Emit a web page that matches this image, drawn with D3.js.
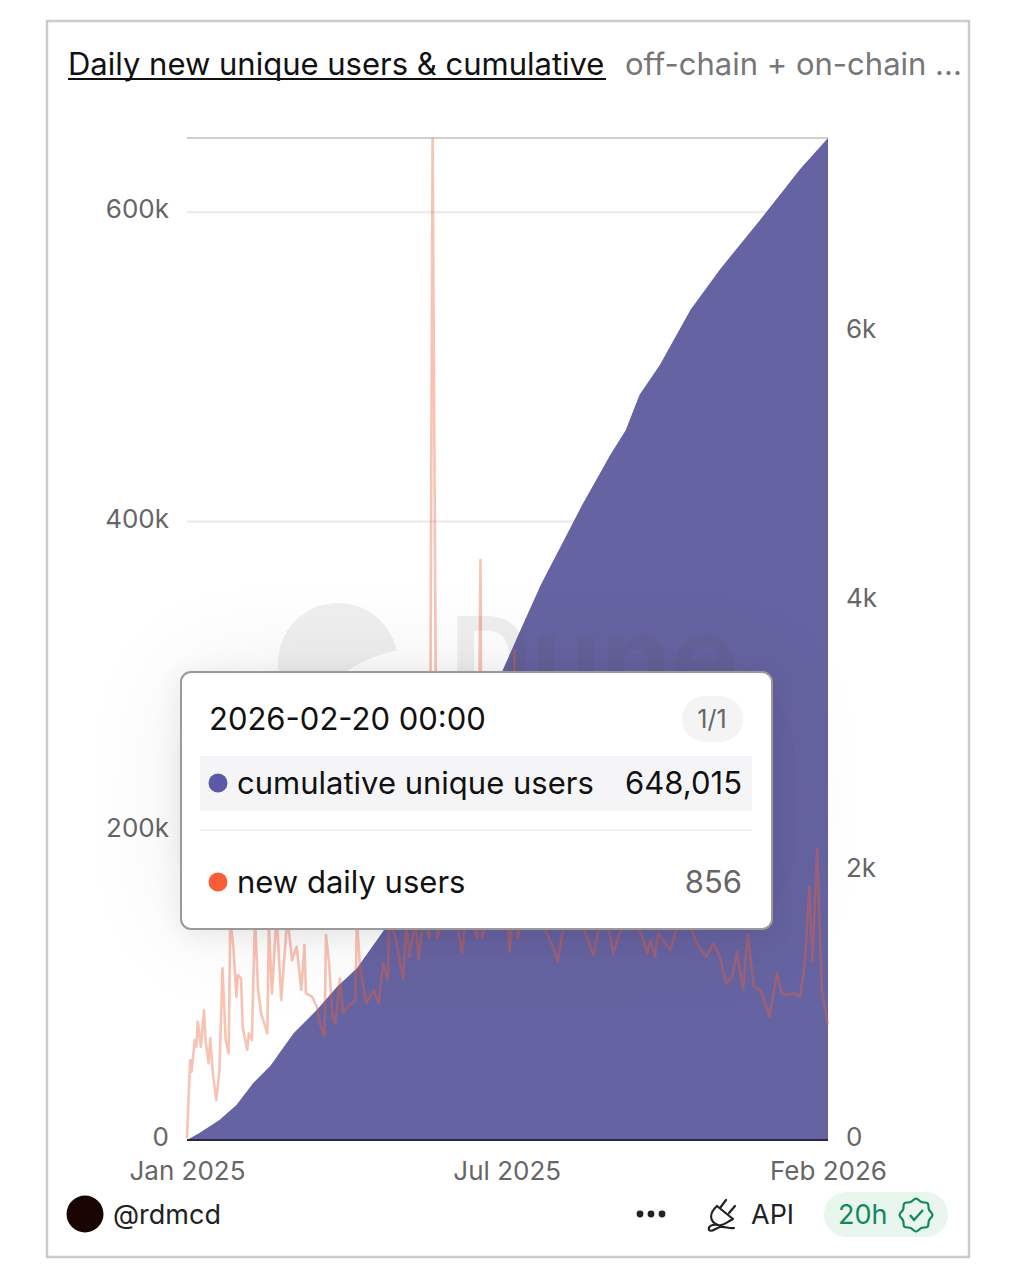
<!DOCTYPE html>
<html>
<head>
<meta charset="utf-8">
<script src="https://cdn.jsdelivr.net/npm/d3@7"></script>
<style>
  html, body { margin: 0; padding: 0; background: #fff; }
  svg { display: block; }
  text { font-family: Inter, "Noto Sans", sans-serif; }
</style>
</head>
<body>
<div id="chart"></div>
<script>
// values, days are counted from the first date
const startDate = new Date(Date.UTC(2025, 0, 1));
const endDate = new Date(Date.UTC(2026, 1, 20));

const cumulativeDays = [0, 8, 21, 32, 43, 54, 69, 84, 97, 110, 127, 151, 177, 204, 216, 229, 241, 256, 274, 284, 293, 306, 326, 345, 371, 397, 415];
const cumulativeUsers = [0, 4500, 13000, 22600, 37000, 48000, 69000, 84000, 99000, 111000, 135000, 187000, 244000, 303000, 330000, 359000, 382000, 411000, 443000, 459000, 482000, 501000, 537000, 563000, 595000, 628000, 648015];

const dailyDays = [0, 2, 3, 5, 6, 7, 9, 11, 12, 14, 15, 17, 19, 21, 23, 25, 27, 28, 30, 32, 33, 35, 36, 39, 40, 42, 44, 46, 48, 52, 53, 55, 58, 61, 65, 68, 71, 74, 76, 77, 81, 84, 86, 89, 90, 92, 94, 96, 99, 101, 104, 109, 110, 112, 116, 121, 124, 127, 130, 131, 135, 140, 142, 144, 148, 150, 153, 157, 159, 162, 165, 170, 174, 178, 181, 185, 188, 190, 191, 196, 202, 208, 209, 210, 212, 214, 220, 226, 233, 237, 240, 243, 248, 252, 258, 263, 266, 271, 276, 280, 287, 294, 298, 300, 303, 305, 313, 316, 322, 330, 336, 341, 345, 349, 353, 356, 360, 363, 367, 371, 373, 377, 382, 385, 388, 393, 397, 400, 403, 405, 408, 411, 415];
const dailyUsers = [12, 594, 507, 742, 692, 878, 692, 964, 742, 569, 754, 470, 297, 519, 1274, 742, 643, 1632, 1434, 1063, 1224, 1199, 841, 668, 791, 742, 1657, 1113, 940, 791, 1607, 1088, 1682, 1039, 1657, 1335, 1434, 1113, 1447, 1088, 1063, 989, 866, 767, 1521, 1311, 940, 866, 1199, 940, 989, 1039, 1632, 1286, 1014, 1113, 1014, 1311, 1187, 1632, 1500, 1187, 1632, 1360, 1632, 1335, 1650, 1500, 7436, 1500, 1600, 1800, 1650, 1388, 1700, 1600, 1500, 4303, 1500, 1700, 1600, 1558, 1397, 1558, 3636, 1500, 1800, 1650, 1533, 1434, 1323, 1533, 1700, 1750, 1533, 1372, 1533, 1700, 1385, 1533, 1650, 1533, 1385, 1484, 1360, 1533, 1410, 1533, 1700, 1459, 1360, 1459, 1360, 1162, 1212, 1397, 1113, 1521, 1138, 1113, 1063, 915, 1236, 1088, 1076, 1088, 1063, 1311, 1880, 1323, 2164, 1113, 856];

const leftTicks = [0, 200000, 400000, 600000];
const rightTicks = [0, 2000, 4000, 6000];
const xTickDates = [startDate, new Date(Date.UTC(2025, 6, 27)), endDate];

const toDate = d => d3.utcDay.offset(startDate, d);

const cumulative = cumulativeDays.map((d, i) => ({ date: toDate(d), value: cumulativeUsers[i] }));
const daily = dailyDays.map((d, i) => ({ date: toDate(d), value: dailyUsers[i] }));

const width = 1016, height = 1280;
const plot = { left: 187, right: 828, top: 138, bottom: 1140 };

const x = d3.scaleUtc().domain([startDate, endDate]).range([plot.left, plot.right]);
const yLeft = d3.scaleLinear().domain([0, 648015]).range([plot.bottom, plot.top]);
const yRight = d3.scaleLinear().domain([0, 7436]).range([plot.bottom, plot.top]);

const svg = d3.select('#chart').append('svg')
  .attr('width', width)
  .attr('height', height);

const defs = svg.append('defs');
defs.append('clipPath').attr('id', 'plot-clip').append('rect')
  .attr('x', plot.left - 2).attr('y', plot.top)
  .attr('width', plot.right - plot.left + 4).attr('height', plot.bottom - plot.top);
defs.append('filter').attr('id', 'blur-wide')
  .attr('x', '-60%').attr('y', '-100%').attr('width', '220%').attr('height', '300%')
  .append('feGaussianBlur').attr('stdDeviation', 55);
defs.append('filter').attr('id', 'blur-near')
  .attr('x', '-20%').attr('y', '-30%').attr('width', '140%').attr('height', '160%')
  .append('feGaussianBlur').attr('stdDeviation', 14);

// card
svg.append('rect')
  .attr('x', 47).attr('y', 21).attr('width', 922).attr('height', 1236)
  .attr('fill', '#fff').attr('stroke', '#cbcbcb').attr('stroke-width', 2.5);

// title
svg.append('text').attr('x', 68).attr('y', 75)
  .attr('font-size', 31).attr('fill', '#111')
  .text('Daily new unique users & cumulative');
svg.append('line').attr('x1', 68).attr('x2', 606).attr('y1', 79).attr('y2', 79)
  .attr('stroke', '#111').attr('stroke-width', 2);
svg.append('text').attr('x', 625).attr('y', 75)
  .attr('font-size', 31).attr('fill', '#777')
  .text('off-chain + on-chain ...');

// grid and left axis
const leftAxis = svg.append('g')
  .attr('transform', `translate(${plot.left},0)`)
  .call(d3.axisLeft(yLeft).tickValues(leftTicks).tickFormat(d3.format('~s'))
    .tickSize(0).tickPadding(18));
leftAxis.select('.domain').remove();
leftAxis.selectAll('text').attr('font-size', 26).attr('fill', '#666')
  .attr('font-family', 'Inter').attr('dy', '0.22em');

svg.append('g').selectAll('line')
  .data(leftTicks.filter(d => d > 0))
  .join('line')
  .attr('x1', plot.left).attr('x2', plot.right)
  .attr('y1', d => yLeft(d)).attr('y2', d => yLeft(d))
  .attr('stroke', '#e9e9e9').attr('stroke-width', 2);
svg.append('line')
  .attr('x1', plot.left).attr('x2', plot.right)
  .attr('y1', plot.top).attr('y2', plot.top)
  .attr('stroke', '#cfcfcf').attr('stroke-width', 2);

// right axis
const rightAxis = svg.append('g')
  .attr('transform', `translate(${plot.right},0)`)
  .call(d3.axisRight(yRight).tickValues(rightTicks).tickFormat(d3.format('~s'))
    .tickSize(0).tickPadding(18));
rightAxis.select('.domain').remove();
rightAxis.selectAll('text').attr('font-size', 26).attr('fill', '#666')
  .attr('font-family', 'Inter').attr('dy', '0.22em');

// x axis
const xAxis = svg.append('g')
  .attr('transform', `translate(0,${plot.bottom})`)
  .call(d3.axisBottom(x).tickValues(xTickDates).tickFormat(d3.utcFormat('%b %Y'))
    .tickSize(0).tickPadding(22));
xAxis.select('.domain').remove();
xAxis.selectAll('text').attr('font-size', 26).attr('fill', '#666').attr('font-family', 'Inter');

// series
const chart = svg.append('g').attr('clip-path', 'url(#plot-clip)');

chart.append('path')
  .datum(cumulative)
  .attr('fill', '#6663a2')
  .attr('d', d3.area().x(d => x(d.date)).y0(plot.bottom).y1(d => yLeft(d.value)));

chart.append('path')
  .datum(daily)
  .attr('fill', 'none')
  .attr('stroke', '#f0603a')
  .attr('stroke-opacity', 0.38)
  .attr('stroke-width', 2.6)
  .attr('stroke-linejoin', 'round')
  .attr('d', d3.line().x(d => x(d.date)).y(d => yRight(d.value)));

svg.append('line')
  .attr('x1', plot.left).attr('x2', plot.right)
  .attr('y1', plot.bottom).attr('y2', plot.bottom)
  .attr('stroke', '#2a2540').attr('stroke-width', 2);

// watermark
const mark = svg.append('g').attr('opacity', 0.09);
mark.append('circle').attr('cx', 338).attr('cy', 663).attr('r', 60).attr('fill', '#555');
mark.append('text').attr('x', 450).attr('y', 697)
  .attr('font-size', 112).attr('font-weight', 700).attr('fill', '#555')
  .attr('textLength', 288).text('Dune');
svg.append('path')
  .attr('d', 'M400,650 Q370,655 345,672 L400,700 Z')
  .attr('fill', '#fff');

// tooltip shadow, it lies over the whole chart
svg.append('rect')
  .attr('x', 181).attr('y', 672).attr('width', 591).attr('height', 257)
  .attr('fill', '#000').attr('opacity', 0.07).attr('filter', 'url(#blur-wide)');
svg.append('rect')
  .attr('x', 181).attr('y', 676).attr('width', 591).attr('height', 257)
  .attr('fill', '#000').attr('opacity', 0.08).attr('filter', 'url(#blur-near)');

// tooltip
const tip = svg.append('g');
tip.append('rect')
  .attr('x', 181).attr('y', 672).attr('width', 591).attr('height', 257).attr('rx', 10)
  .attr('fill', '#fff').attr('stroke', '#9a9a9a').attr('stroke-width', 2);
tip.append('text').attr('x', 209).attr('y', 730)
  .attr('font-size', 31).attr('fill', '#111')
  .text(d3.utcFormat('%Y-%m-%d %H:%M')(endDate));
tip.append('rect')
  .attr('x', 682).attr('y', 696).attr('width', 61).attr('height', 46).attr('rx', 23)
  .attr('fill', '#f4f4f5');
tip.append('text').attr('x', 712).attr('y', 728).attr('text-anchor', 'middle')
  .attr('font-size', 25).attr('fill', '#666').text('1/1');
tip.append('rect')
  .attr('x', 200).attr('y', 756).attr('width', 552).attr('height', 55)
  .attr('fill', '#f5f5f8');
tip.append('line')
  .attr('x1', 200).attr('x2', 752).attr('y1', 830).attr('y2', 830)
  .attr('stroke', '#f1f1f1').attr('stroke-width', 2);

const tipRows = [
  { label: 'cumulative unique users', value: cumulativeUsers[cumulativeUsers.length - 1], dot: '#5b58a6', ink: '#111', y: 783 },
  { label: 'new daily users', value: dailyUsers[dailyUsers.length - 1], dot: '#f95d38', ink: '#666', y: 882 }
];
tipRows.forEach(r => {
  tip.append('circle').attr('cx', 218).attr('cy', r.y).attr('r', 9.5).attr('fill', r.dot);
  tip.append('text').attr('x', 237).attr('y', r.y + 11)
    .attr('font-size', 31).attr('fill', '#111').text(r.label);
  tip.append('text').attr('x', 742).attr('y', r.y + 11).attr('text-anchor', 'end')
    .attr('font-size', 31).attr('fill', r.ink).text(d3.format(',')(r.value));
});

// footer
svg.append('circle').attr('cx', 85).attr('cy', 1214).attr('r', 18.5).attr('fill', '#1a0505');
svg.append('text').attr('x', 113).attr('y', 1224)
  .attr('font-size', 27).attr('fill', '#222').text('@rdmcd');
svg.append('g').selectAll('circle')
  .data([640, 651, 662])
  .join('circle')
  .attr('cx', d => d).attr('cy', 1214).attr('r', 3.4).attr('fill', '#222');

// plug icon
svg.append('path')
  .attr('d', 'M726,1200 L720,1208 M735,1206 L729,1213 M717,1206 L733,1219 M717,1206 C708,1214 710,1222 718,1225 C722,1227 727,1222 733,1219 M718,1225 C712,1224 708,1226 709,1230 C711,1233 716,1228 720,1227 C725,1226 729,1229 734,1228')
  .attr('fill', 'none').attr('stroke', '#222').attr('stroke-width', 2.2).attr('stroke-linecap', 'round');
svg.append('text').attr('x', 751).attr('y', 1224)
  .attr('font-size', 27).attr('fill', '#222').text('API');

svg.append('rect')
  .attr('x', 824).attr('y', 1192).attr('width', 124).attr('height', 45).attr('rx', 22.5)
  .attr('fill', '#e8f6ee');
svg.append('text').attr('x', 838).attr('y', 1224)
  .attr('font-size', 27).attr('fill', '#12875c').text('20h');

// badge icon, a scalloped ring with a tick
const badge = svg.append('g').attr('transform', 'translate(916,1215)');
badge.append('path')
  .attr('d', d3.lineRadial().curve(d3.curveCardinalClosed)
    .angle((d, i) => i * Math.PI / 8)
    .radius((d, i) => i % 2 ? 14 : 16.5)(d3.range(16)))
  .attr('fill', 'none').attr('stroke', '#12875c').attr('stroke-width', 2.2);
badge.append('path')
  .attr('d', 'M-6,0 L-2,5 L7,-5')
  .attr('fill', 'none').attr('stroke', '#12875c').attr('stroke-width', 2.2);
</script>
</body>
</html>
